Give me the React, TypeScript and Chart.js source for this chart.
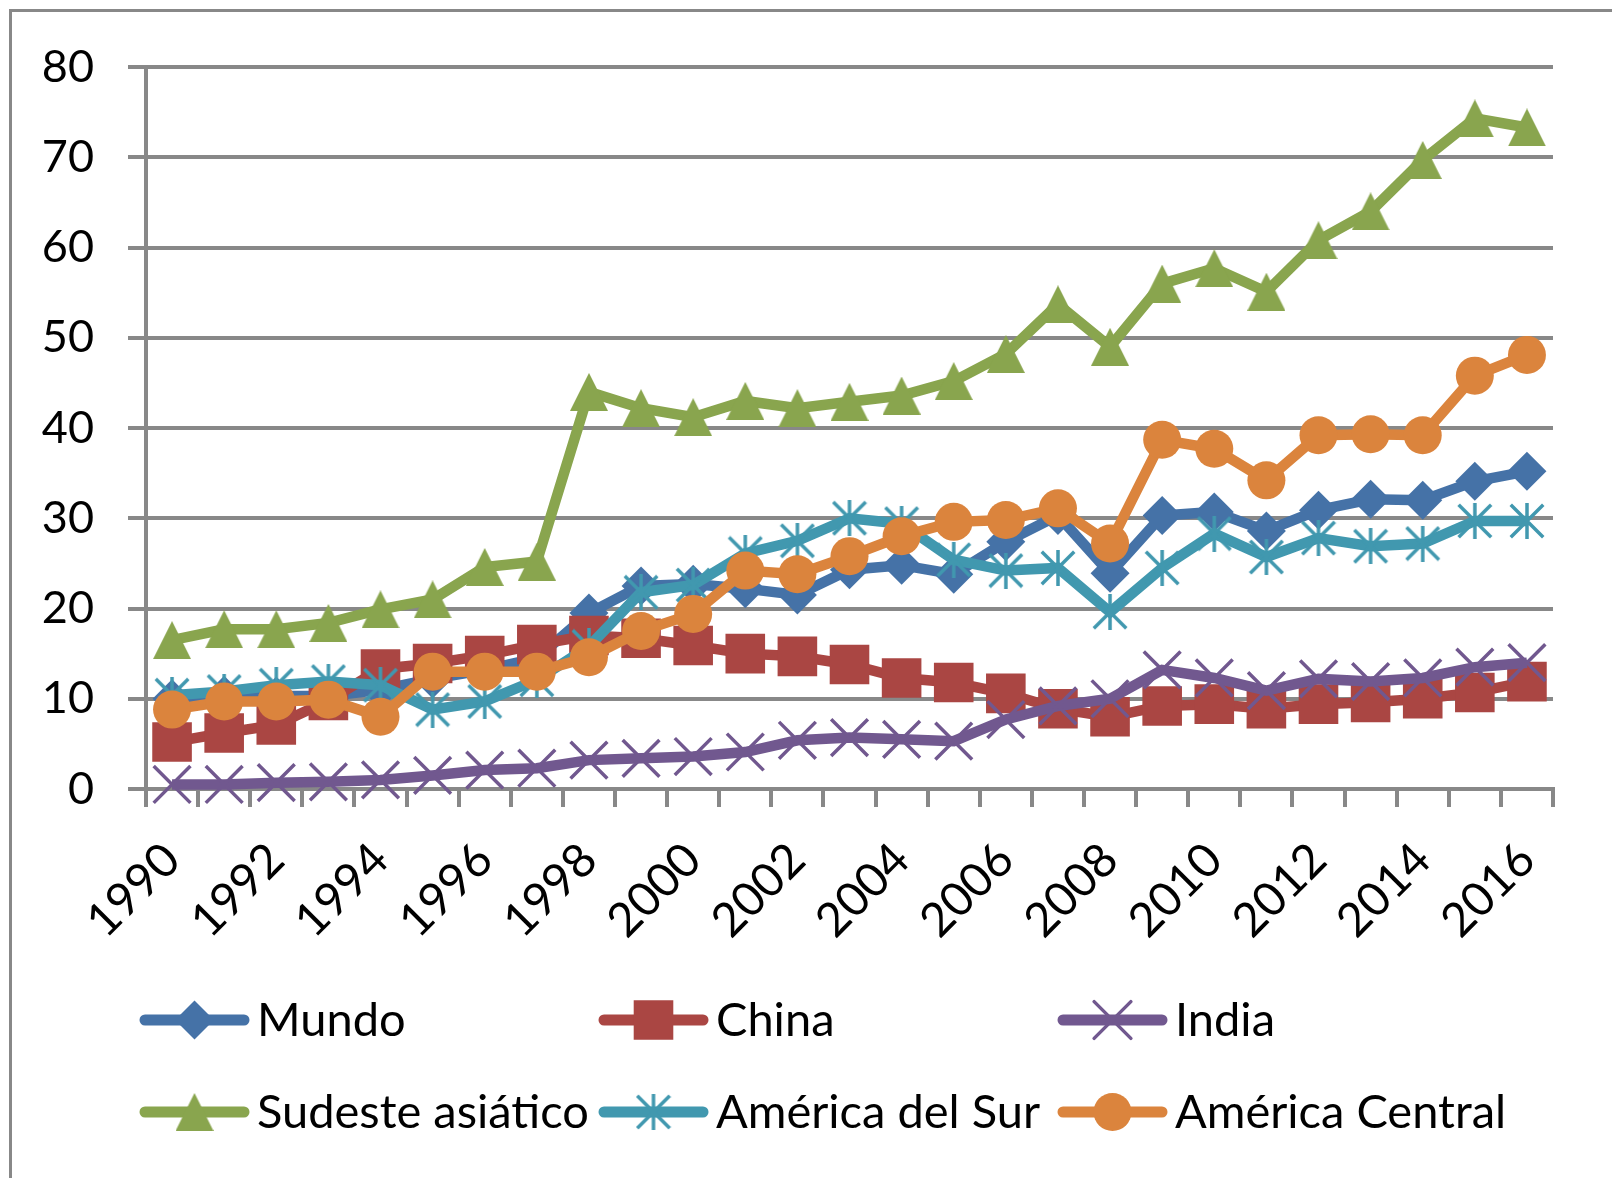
import React, { useEffect, useRef } from 'react';
import { Chart, registerables } from 'chart.js';
import { drawPoint } from 'chart.js/helpers';

Chart.register(...registerables);

const years = ['1990','1991','1992','1993','1994','1995','1996','1997','1998','1999','2000','2001','2002','2003','2004','2005','2006','2007','2008','2009','2010','2011','2012','2013','2014','2015','2016'];

const mundo = [10.0, 10.4, 10.3, 10.3, 11.0, 12.2, 13.2, 14.5, 19.5, 22.5, 22.7, 22.2, 21.5, 24.3, 24.8, 23.8, 27.4, 30.3, 23.9, 30.3, 30.7, 28.6, 30.9, 32.1, 32.0, 34.1, 35.2];
const china = [5.2, 6.2, 7.1, 9.8, 13.3, 13.9, 14.8, 16.0, 17.0, 16.7, 15.9, 15.0, 14.7, 13.8, 12.3, 11.8, 10.6, 8.9, 8.0, 9.2, 9.4, 8.9, 9.4, 9.6, 10.0, 10.7, 11.9];
const india = [0.5, 0.5, 0.7, 0.8, 1.0, 1.5, 2.1, 2.3, 3.2, 3.4, 3.6, 4.1, 5.4, 5.7, 5.5, 5.3, 7.7, 9.2, 10.0, 13.2, 12.3, 10.9, 12.2, 11.9, 12.3, 13.5, 14.0];
const sudeste = [16.5, 17.7, 17.7, 18.4, 19.9, 21.0, 24.6, 25.2, 44.0, 42.2, 41.2, 43.0, 42.2, 42.9, 43.6, 45.2, 48.2, 53.7, 49.0, 56.0, 57.7, 55.1, 60.8, 64.0, 69.7, 74.3, 73.3];
const americaSur = [10.4, 10.8, 11.5, 11.9, 11.5, 8.8, 9.7, 12.1, 15.8, 21.8, 22.6, 26.1, 27.5, 30.0, 29.4, 25.4, 24.2, 24.5, 19.6, 24.5, 28.3, 25.7, 27.8, 26.9, 27.2, 29.7, 29.7];
const americaCentral = [8.8, 9.7, 9.7, 9.9, 8.0, 13.0, 13.0, 13.0, 14.6, 17.5, 19.4, 24.2, 23.8, 25.8, 28.0, 29.6, 29.8, 31.1, 27.2, 38.7, 37.7, 34.2, 39.2, 39.3, 39.2, 45.8, 48.1];

const seriesNames = ['Mundo', 'China', 'India', 'Sudeste asiático', 'América del Sur', 'América Central'];
const seriesColors = ['#4572A7', '#AA4643', '#71588F', '#89A54E', '#4198AF', '#DB843D'];

const FONT = 'Lato, "Open Sans", sans-serif';
const GRID = '#888888';

function makeTriangle(color: string, size: number) {
  const c = document.createElement('canvas');
  c.width = size;
  c.height = size;
  const ctx = c.getContext('2d')!;
  ctx.fillStyle = color;
  ctx.beginPath();
  ctx.moveTo(size / 2, 0);
  ctx.lineTo(size, size);
  ctx.lineTo(0, size);
  ctx.closePath();
  ctx.fill();
  return c;
}

function makeAsterisk(color: string, size: number, lw: number) {
  const c = document.createElement('canvas');
  c.width = size;
  c.height = size;
  const ctx = c.getContext('2d')!;
  ctx.strokeStyle = color;
  ctx.lineWidth = lw;
  const p = lw / 2;
  ctx.beginPath();
  ctx.moveTo(size / 2, 0);
  ctx.lineTo(size / 2, size);
  ctx.moveTo(p, p);
  ctx.lineTo(size - p, size - p);
  ctx.moveTo(size - p, p);
  ctx.lineTo(p, size - p);
  ctx.stroke();
  return c;
}

const legendColX = [140, 599, 1058];
const legendRowY = [1020, 1112];
const legendLineLen = 109;
const legendTextOffset = 117;

const gridLegend = {
  id: 'gridLegend',
  afterDraw(chart: any) {
    const ctx = chart.ctx;
    chart.data.datasets.forEach((ds: any, i: number) => {
      const x0 = legendColX[i % 3];
      const y = legendRowY[Math.floor(i / 3)];
      ctx.save();
      ctx.strokeStyle = ds.borderColor;
      ctx.lineWidth = 11;
      ctx.lineCap = 'round';
      ctx.beginPath();
      ctx.moveTo(x0 + 5, y);
      ctx.lineTo(x0 + legendLineLen - 5, y);
      ctx.stroke();
      ctx.fillStyle = ds.pointBackgroundColor;
      ctx.strokeStyle = ds.pointBorderColor;
      ctx.lineWidth = ds.pointBorderWidth;
      drawPoint(ctx, { pointStyle: ds.pointStyle, radius: ds.pointRadius, borderWidth: ds.pointBorderWidth, rotation: 0 }, x0 + legendLineLen / 2, y);
      ctx.fillStyle = '#000000';
      ctx.font = `47px ${FONT}`;
      ctx.textAlign = 'left';
      ctx.textBaseline = 'alphabetic';
      ctx.fillText(seriesNames[i], x0 + legendTextOffset, y + 16);
      ctx.restore();
    });
  },
};

export default function App() {
  const ref = useRef<HTMLCanvasElement>(null);

  useEffect(() => {
    if (!ref.current) return;
    const values = [mundo, china, india, sudeste, americaSur, americaCentral];
    const styles: any[] = ['rectRot', 'rect', 'crossRot', makeTriangle(seriesColors[3], 38), makeAsterisk(seriesColors[4], 36, 3.5), 'circle'];
    const radii = [19.5, 28, 26, 20, 20, 19];
    const pbw = [0, 0, 3.5, 0, 0, 0];

    const datasets = values.map((data, i) => ({
      label: seriesNames[i],
      data,
      borderColor: seriesColors[i],
      backgroundColor: seriesColors[i],
      pointBackgroundColor: seriesColors[i],
      pointBorderColor: seriesColors[i],
      pointBorderWidth: pbw[i],
      pointStyle: styles[i],
      pointRadius: radii[i],
      borderWidth: 10.5,
      tension: 0,
      clip: false as any,
      order: 5 - i,
    }));

    const chart = new Chart(ref.current, {
      type: 'line',
      data: { labels: years, datasets },
      options: {
        animation: false,
        responsive: false,
        maintainAspectRatio: false,
        layout: { padding: { top: 67, right: 59, left: 0, bottom: 0 } },
        plugins: { legend: { display: false }, tooltip: { enabled: false } },
        scales: {
          x: {
            type: 'category',
            offset: true,
            grid: { offset: true, drawOnChartArea: false, drawTicks: true, tickLength: 18, color: GRID, lineWidth: 4 },
            border: { display: true, color: GRID, width: 4 },
            ticks: {
              autoSkip: false,
              maxRotation: 45,
              minRotation: 45,
              padding: 25,
              color: '#000000',
              font: { family: FONT, size: 47 },
              callback: (_v: any, idx: number) => (idx % 2 === 0 ? years[idx] : ''),
            },
            afterFit: (scale: any) => { scale.height = 389; },
          },
          y: {
            min: 0,
            max: 80,
            grid: { color: GRID, lineWidth: 4, drawTicks: true, tickLength: 18 },
            border: { display: true, color: GRID, width: 4 },
            ticks: {
              stepSize: 10,
              padding: 34,
              color: '#000000',
              font: { family: FONT, size: 45 },
            },
            afterFit: (scale: any) => { scale.width = 146; },
          },
        },
      },
      plugins: [gridLegend],
    });
    return () => chart.destroy();
  }, []);

  return (
    <div style={{ position: 'absolute', left: 0, top: 0, width: 1612, height: 1178, background: '#ffffff', overflow: 'hidden' }}>
      <div style={{ position: 'absolute', left: 9, top: 9, width: 1700, height: 1300, borderLeft: `3px solid ${GRID}`, borderTop: `3px solid ${GRID}` }} />
      <canvas ref={ref} width={1612} height={1178} style={{ position: 'absolute', left: 0, top: 0, width: 1612, height: 1178 }} />
    </div>
  );
}
